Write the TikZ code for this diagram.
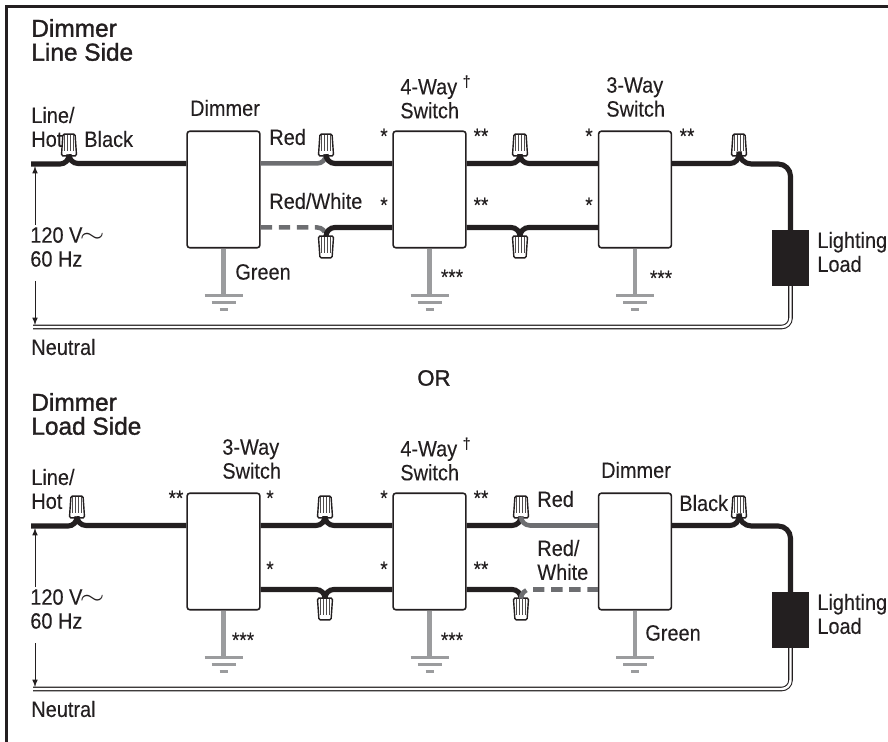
\documentclass[tikz,border=0pt]{standalone}
\usepackage{fontspec}
\setmainfont[FakeStretch=0.9,FakeBold=0.15]{Liberation Sans}
\newfontfamily\headfont[FakeBold=1.4]{Liberation Sans}
\usetikzlibrary{calc}
\usetikzlibrary{shapes.geometric}
\definecolor{inkblack}{HTML}{231F20}
\definecolor{redgrey}{HTML}{6D6E71}
\definecolor{greengrey}{HTML}{9B9C9E}
\newcommand{\acwave}{\kern-1.5pt\scalebox{1.5}[1.2]{$\sim$}}
\tikzset{
	lbl/.style={font=\fontsize{12.6}{13.6}\selectfont,align=left,inner sep=0pt,text=inkblack,anchor=west},
	head/.style={font=\headfont\fontsize{13.9}{13.6}\selectfont,align=left,inner sep=0pt,text=inkblack,anchor=west},
	devbox/.style={draw=inkblack,fill=white,line width=0.9pt,rounded corners=1.5pt,minimum width=41.4pt,minimum height=66.3pt,inner sep=0pt},
	loadbox/.style={fill=inkblack,minimum width=21pt,minimum height=31.7pt,inner sep=0pt},
	nutup/.style={draw=inkblack,fill=white,line width=0.8pt,rounded corners=0.8pt,trapezium,trapezium left angle=83,trapezium right angle=83,trapezium stretches=true,minimum width=8.6pt,minimum height=12.4pt,inner sep=0.5pt,
		path picture={
			\foreach \s in {-2.4,-0.8,0.8,2.4}
				\draw[inkblack!80,line width=0.6pt] ([xshift=\s pt]path picture bounding box.north) -- ([xshift=\s pt,yshift=2.6pt]path picture bounding box.south);
		}},
	nutdn/.style={nutup,shape border rotate=180},
	blackwire/.style={draw=inkblack,line width=2.9pt,rounded corners=5.1pt},
	redwire/.style={draw=redgrey,line width=2.6pt,rounded corners=5.1pt},
	stripewire/.style={redwire,dash pattern=on 6.5pt off 3.8pt},
	greenwire/.style={draw=greengrey,line width=2.4pt},
	gndbar/.style={draw=greengrey,line width=1.3pt},
	neutral/.style={draw=inkblack,line width=0.6pt,double=white,double distance=1.4pt,rounded corners=5pt},
	meas/.style={draw=inkblack,line width=0.45pt,-latex}
}
\begin{document}
\begin{tikzpicture}[x=0.02cm,y=-0.02cm]
	\useasboundingbox (0,0) rectangle (888,742);
	\draw[inkblack,line width=1.7pt] (6.5,742) -- (6.5,6.5) -- (888,6.5);
	% line side row
	\node[head] (titleA) at (31,40) {Dimmer\\Line Side};
	\node[devbox] (dimA) at (223.5,189.5) {};
	\node[devbox] (fourA) at (429.5,189.5) {};
	\node[devbox] (threeA) at (635,189.5) {};
	\node[loadbox] (loadA) at (790.5,258) {};
	\node[nutup] (nutA) at (69,145) {};
	\node[nutup] (nutB) at (326,145) {};
	\node[nutdn] (nutC) at (326,247) {};
	\node[nutup] (nutD) at (520,145) {};
	\node[nutdn] (nutE) at (520,247) {};
	\node[nutup] (nutF) at (739,145) {};
	% load side row
	\node[head] (titleB) at (31,414) {Dimmer\\Load Side};
	\node[devbox] (threeB) at (223.5,551.5) {};
	\node[devbox] (fourB) at (429.5,551.5) {};
	\node[devbox] (dimB) at (635,551.5) {};
	\node[loadbox] (loadB) at (790.5,620) {};
	\node[nutup] (nutG) at (77,507) {};
	\node[nutup] (nutH) at (325,507) {};
	\node[nutdn] (nutI) at (325,609) {};
	\node[nutup] (nutJ) at (521,507) {};
	\node[nutdn] (nutK) at (521,609) {};
	\node[nutup] (nutL) at (739,507) {};
	% terminals and grounds of every box
	\foreach \b in {dimA,fourA,threeA,threeB,fourB,dimB}
	{
		\coordinate (\b-tl) at ($(\b.north west)+(0,33)$);
		\coordinate (\b-bl) at ($(\b.north west)+(0,97)$);
		\coordinate (\b-tr) at ($(\b.north east)+(0,33)$);
		\coordinate (\b-br) at ($(\b.north east)+(0,97)$);
		\coordinate (\b-gnd) at ($(\b.south)+(0,47)$);
		\draw[greenwire] (\b.south) -- (\b-gnd);
		\draw[gndbar] ($(\b-gnd)+(-19,0)$) -- ($(\b-gnd)+(19,0)$);
		\draw[gndbar] ($(\b-gnd)+(-12,7)$) -- ($(\b-gnd)+(12,7)$);
		\draw[gndbar] ($(\b-gnd)+(-4,14)$) -- ($(\b-gnd)+(4,14)$);
	}
	\coordinate (hotA) at (31,164);
	\coordinate (hotB) at (31,526);
	\coordinate (bendA) at (790.5,164);
	\coordinate (bendB) at (790.5,526);
	\coordinate (neuA) at (33,327);
	\coordinate (neuB) at (33,689);
	\coordinate (neuAb) at (790.5,327);
	\coordinate (neuBb) at (790.5,689);
	% wires, line side
	\draw[blackwire] (hotA) -| (nutA.south);
	\draw[blackwire] (nutA.south) |- (dimA-tl);
	\draw[redwire] (dimA-tr) -| (nutB.south);
	\draw[blackwire] (nutB.south) |- (fourA-tl);
	\draw[stripewire] (dimA-br) -| (nutC.north);
	\draw[blackwire] (nutC.north) |- (fourA-bl);
	\draw[blackwire] (fourA-tr) -| (nutD.south);
	\draw[blackwire] (nutD.south) |- (threeA-tl);
	\draw[blackwire] (fourA-br) -| (nutE.north);
	\draw[blackwire] (nutE.north) |- (threeA-bl);
	\draw[blackwire] (threeA-tr) -| (nutF.south);
	\draw[blackwire,rounded corners=7pt] (nutF.south) |- (bendA) -- (loadA.north);
	\draw[neutral] (loadA.south) -- (neuAb) -- (neuA);
	% wires, load side
	\draw[blackwire] (hotB) -| (nutG.south);
	\draw[blackwire] (nutG.south) |- (threeB-tl);
	\draw[blackwire] (threeB-tr) -| (nutH.south);
	\draw[blackwire] (nutH.south) |- (fourB-tl);
	\draw[blackwire] (threeB-br) -| (nutI.north);
	\draw[blackwire] (nutI.north) |- (fourB-bl);
	\draw[blackwire] (fourB-tr) -| (nutJ.south);
	\draw[redwire] (nutJ.south) |- (dimB-tl);
	\draw[blackwire] (fourB-br) -| (nutK.north);
	\draw[stripewire] (nutK.north) |- (dimB-bl);
	\draw[blackwire] (dimB-tr) -| (nutL.south);
	\draw[blackwire,rounded corners=7pt] (nutL.south) |- (bendB) -- (loadB.north);
	\draw[neutral] (loadB.south) -- (neuBb) -- (neuB);
	% voltage arrows
	\foreach \r/\y in {A/0,B/362}
	{
		\node[lbl] (volt\r) at (30,247+\y) {120 V\acwave\\60 Hz};
		\coordinate (up\r) at (35,166+\y);
		\coordinate (dn\r) at (35,325+\y);
		\draw[meas] ($(up\r)+(0,59)$) -- (up\r);
		\draw[meas] ($(dn\r)+(0,-44)$) -- (dn\r);
		\node[lbl] (neutlbl\r) at (31,347+\y) {Neutral};
		\node[lbl] (lightlbl\r) at (817,252+\y) {Lighting\\Load};
	}
	% labels, line side
	\node[lbl] (hotlblA) at (31,127) {Line/\\Hot};
	\node[lbl] (blacklblA) at (84,139) {Black};
	\node[lbl,anchor=center] (dimlblA) at (225,108) {Dimmer};
	\node[lbl] (redlblA) at (269,137) {Red};
	\node[lbl] (rwlblA) at (269,201) {Red/White};
	\node[lbl] (greenlblA) at (235,272) {Green};
	\node[lbl] (fourlblA) at (400,97) {4-Way \textsuperscript{†}\\Switch};
	\node[lbl] (threelblA) at (606,97) {3-Way\\Switch};
	\node[head,font=\headfont\fontsize{12.6}{13.6}\selectfont] (orlbl) at (417,378) {OR};
	% labels, load side
	\node[lbl] (hotlblB) at (31,489) {Line/\\Hot};
	\node[lbl] (threelblB) at (222,459) {3-Way\\Switch};
	\node[lbl] (fourlblB) at (400,459) {4-Way \textsuperscript{†}\\Switch};
	\node[lbl,anchor=center] (dimlblB) at (636,470) {Dimmer};
	\node[lbl] (blacklblB) at (679,503) {Black};
	\node[lbl] (redlblB) at (537,499) {Red};
	\node[lbl] (rwlblB) at (537,560) {Red/\\White};
	\node[lbl] (greenlblB) at (645,633) {Green};
	% stars
	\foreach \x/\y/\t [count=\i] in {384/136/*,384/205/*,481/136/**,481/205/**,452/277/***,589/136/*,589/205/*,687/136/**,661/278/***,176/498/**,270/498/*,270/569/*,384/498/*,384/569/*,481/498/**,481/569/**,243/640/***,452/640/***}
		\node[lbl,anchor=center,font=\fontsize{12}{13}\selectfont] (star\i) at (\x,\y) {\t};
\end{tikzpicture}
\end{document}
